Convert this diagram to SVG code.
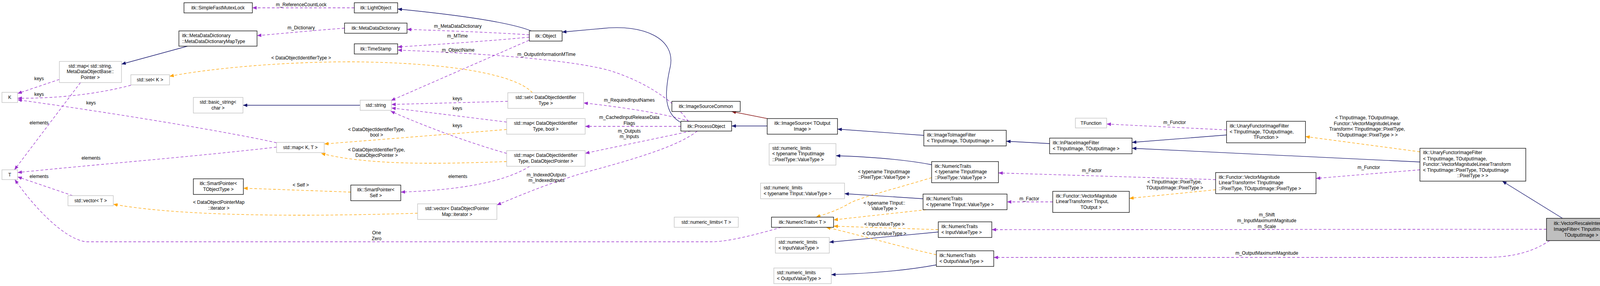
<svg xmlns="http://www.w3.org/2000/svg" width="4144" height="731" viewBox="0 0 4144 731">
<style>
text{font-family:"Liberation Sans",Arial,sans-serif;font-size:12px;fill:#000}
.c{text-anchor:middle}
.b{fill:#fff;stroke:#000;stroke-width:1.3}
.g{fill:#fff;stroke:#bfbfbf;stroke-width:1.3}
.s{fill:#bfbfbf;stroke:#000;stroke-width:1.3}
#edges path{fill:none;stroke-width:1.3}
.p{stroke:#9a32cd;stroke-dasharray:7,5;marker-end:url(#mp)}
.o{stroke:#ffa500;stroke-dasharray:7,5;marker-end:url(#mo)}
.n{stroke:#191970;marker-end:url(#mn)}
.r{stroke:#8b1a1a;marker-end:url(#mr)}
</style>
<defs>
<marker id="mp" markerUnits="userSpaceOnUse" markerWidth="12" markerHeight="9" refX="11" refY="4.5" orient="auto"><path d="M0,0 L11,4.5 L0,9 z" fill="#9a32cd"/></marker>
<marker id="mo" markerUnits="userSpaceOnUse" markerWidth="12" markerHeight="9" refX="11" refY="4.5" orient="auto"><path d="M0,0 L11,4.5 L0,9 z" fill="#ffa500"/></marker>
<marker id="mn" markerUnits="userSpaceOnUse" markerWidth="12" markerHeight="9" refX="11" refY="4.5" orient="auto"><path d="M0,0 L11,4.5 L0,9 z" fill="#191970"/></marker>
<marker id="mr" markerUnits="userSpaceOnUse" markerWidth="12" markerHeight="9" refX="11" refY="4.5" orient="auto"><path d="M0,0 L11,4.5 L0,9 z" fill="#8b1a1a"/></marker>
</defs>
<rect width="4144" height="731" fill="#fff"/>
<g id="edges">
<path class="p" d="M907,20 L646,20"/>
<path class="n" d="M1360,79 C1300,55 1150,36 1018,23"/>
<path class="p" d="M882,72 C800,78 720,86 658,91"/>
<path class="n" d="M480,118 L311,164"/>
<path class="p" d="M1355,89 C1250,82 1120,78 1042,75"/>
<path class="p" d="M1355,95 C1250,105 1100,115 1018,120"/>
<path class="p" d="M1762,310 C1720,250 1640,205 1560,180 C1450,150 1200,135 1018,128"/>
<path class="p" d="M1354,103 L1001,257"/>
<path class="o" d="M1363,237 C1320,190 1150,160 900,158 C700,158 520,178 434,195"/>
<path class="n" d="M922,269 L622,269"/>
<path class="p" d="M1300,259 L1002,267"/>
<path class="p" d="M1297,312 C1200,300 1080,285 1002,276"/>
<path class="p" d="M1297,392 C1200,365 1080,320 1000,284"/>
<path class="o" d="M1297,331 L830,368"/>
<path class="o" d="M1297,413 C1150,418 950,425 822,392"/>
<path class="p" d="M708,365 C600,340 300,290 45,255"/>
<path class="p" d="M708,376 C500,400 250,420 45,441"/>
<path class="p" d="M152,203 L45,239"/>
<path class="p" d="M335,218 C250,240 150,252 45,251"/>
<path class="p" d="M206,211 L37,434"/>
<path class="p" d="M186,500 L45,452"/>
<path class="p" d="M2000,581 C1900,610 1850,618 1820,618 L220,618 C160,610 80,520 38,459"/>
<path class="o" d="M898,491 L623,481"/>
<path class="o" d="M1069,545 C900,550 500,560 290,522"/>
<path class="p" d="M1356,425 C1300,460 1200,485 1026,491"/>
<path class="p" d="M1765,310 C1700,290 1600,275 1494,263"/>
<path class="p" d="M1743,323 L1498,323"/>
<path class="p" d="M1768,335 C1700,350 1600,370 1498,392"/>
<path class="p" d="M1785,335 C1740,370 1650,400 1500,440 C1400,470 1330,500 1272,524"/>
<path class="n" d="M1743,313 C1700,290 1700,240 1716,170 C1730,100 1650,60 1539,73 L1439,82"/>
<path class="n" d="M1964,322 L1873,322"/>
<path class="r" d="M1964,303 L1873,285"/>
<path class="n" d="M2365,346 L2144,330"/>
<path class="n" d="M2687,367 L2576,361"/>
<path class="n" d="M3140,345 L2898,364"/>
<path class="p" d="M3140,332 L2833,317"/>
<path class="o" d="M3635,388 L3342,349"/>
<path class="n" d="M3635,414 L2898,379"/>
<path class="p" d="M3635,434 L3369,456"/>
<path class="n" d="M4000,558 L3846,463"/>
<path class="o" d="M3112,485 L2891,507"/>
<path class="p" d="M2695,516 L2578,516"/>
<path class="p" d="M3112,459 L2556,442"/>
<path class="n" d="M2385,421 C2300,405 2200,400 2140,398"/>
<path class="o" d="M2385,454 C2300,480 2200,505 2174,520 C2140,540 2110,548 2089,555"/>
<path class="n" d="M2363,508 L2162,495"/>
<path class="o" d="M2371,536 L2134,562"/>
<path class="o" d="M2402,587 L2134,578"/>
<path class="n" d="M2402,593 L2123,619"/>
<path class="o" d="M2397,651 C2300,630 2200,600 2115,581"/>
<path class="n" d="M2397,677 C2300,695 2200,700 2128,702"/>
<path class="p" d="M3959,586 L2539,587"/>
<path class="p" d="M3967,615 C3930,640 3880,658 3800,658 L2544,658"/>
<g class="c">
<text x="771" y="16">m_ReferenceCountLock</text>
<text x="771" y="75">m_Dictionary</text>
<text x="1172" y="71">m_MetaDataDictionary</text>
<text x="1171" y="96">m_MTime</text>
<text x="1173" y="132">m_ObjectName</text>
<text x="1399" y="143">m_OutputInformationMTime</text>
<text x="771" y="152">&lt; DataObjectIdentifierType &gt;</text>
<text x="1171" y="256">keys</text>
<text x="1171" y="281">keys</text>
<text x="1171" y="325">keys</text>
<text x="964" y="335">&lt; DataObjectIdentifierType,</text>
<text x="964" y="349">bool &gt;</text>
<text x="964" y="387">&lt; DataObjectIdentifierType,</text>
<text x="964" y="401">DataObjectPointer &gt;</text>
<text x="100" y="205">keys</text>
<text x="100" y="245">keys</text>
<text x="233" y="267">keys</text>
<text x="100" y="318">elements</text>
<text x="233" y="408">elements</text>
<text x="100" y="455">elements</text>
<text x="964" y="599">One</text>
<text x="964" y="614">Zero</text>
<text x="770" y="477">&lt; Self &gt;</text>
<text x="560" y="521">&lt; DataObjectPointerMap</text>
<text x="560" y="536">::iterator &gt;</text>
<text x="1172" y="455">elements</text>
<text x="1611" y="260">m_RequiredInputNames</text>
<text x="1611" y="304">m_CachedInputReleaseData</text>
<text x="1611" y="319">Flags</text>
<text x="1611" y="339">m_Outputs</text>
<text x="1611" y="353">m_Inputs</text>
<text x="1399" y="451">m_IndexedOutputs</text>
<text x="1399" y="465">m_IndexedInputs</text>
<text x="3007" y="317">m_Functor</text>
<text x="3500" y="305">&lt; TInputImage, TOutputImage,</text>
<text x="3500" y="320">Functor::VectorMagnitudeLinear</text>
<text x="3500" y="334">Transform&lt; TInputImage::PixelType,</text>
<text x="3500" y="349">TOutputImage::PixelType &gt; &gt;</text>
<text x="3504" y="432">m_Functor</text>
<text x="3007" y="469">&lt; TInputImage::PixelType,</text>
<text x="3007" y="484">TOutputImage::PixelType &gt;</text>
<text x="2635" y="512">m_Factor</text>
<text x="2795" y="440">m_Factor</text>
<text x="2263" y="443">&lt; typename TInputImage</text>
<text x="2263" y="457">::PixelType::ValueType &gt;</text>
<text x="2264" y="523">&lt; typename TInput::</text>
<text x="2264" y="537">ValueType &gt;</text>
<text x="2264" y="577">&lt; InputValueType &gt;</text>
<text x="2264" y="601">&lt; OutputValueType &gt;</text>
<text x="3243" y="553">m_Shift</text>
<text x="3243" y="568">m_InputMaximumMagnitude</text>
<text x="3243" y="583">m_Scale</text>
<text x="3243" y="651">m_OutputMaximumMagnitude</text>
</g>
</g>
<g id="n1"><rect class="b" x="471" y="7" width="175" height="26"/><text class="c" x="558" y="24">itk::SimpleFastMutexLock</text></g>
<g id="n2"><rect class="b" x="458" y="79" width="200" height="39"/><text x="466" y="95">itk::MetaDataDictionary</text><text x="466" y="110">::MetaDataDictionaryMapType</text></g>
<g id="n3"><rect class="g" x="152" y="157" width="159" height="54"/><text class="c" x="231" y="173">std::map&lt; std::string,</text><text class="c" x="231" y="187">MetaDataObjectBase::</text><text class="c" x="231" y="202">Pointer &gt;</text></g>
<g id="n4"><rect class="g" x="335" y="191" width="99" height="26"/><text class="c" x="384" y="208">std::set&lt; K &gt;</text></g>
<g id="n5"><rect class="g" x="5" y="236" width="40" height="26"/><text class="c" x="25" y="253">K</text></g>
<g id="n6"><rect class="g" x="495" y="249" width="127" height="40"/><text class="c" x="558" y="265">std::basic_string&lt;</text><text class="c" x="558" y="280">char &gt;</text></g>
<g id="n7"><rect class="g" x="5" y="434" width="40" height="25"/><text class="c" x="25" y="451">T</text></g>
<g id="n8"><rect class="b" x="495" y="457" width="128" height="40"/><text class="c" x="559" y="473">itk::SmartPointer&lt;</text><text class="c" x="559" y="488">TObjectType &gt;</text></g>
<g id="n9"><rect class="g" x="174" y="500" width="116" height="26"/><text class="c" x="232" y="517">std::vector&lt; T &gt;</text></g>
<g id="n10"><rect class="b" x="907" y="7" width="111" height="26"/><text class="c" x="962" y="24">itk::LightObject</text></g>
<g id="n11"><rect class="b" x="882" y="59" width="160" height="26"/><text class="c" x="962" y="76">itk::MetaDataDictionary</text></g>
<g id="n12"><rect class="b" x="907" y="112" width="111" height="26"/><text class="c" x="962" y="129">itk::TimeStamp</text></g>
<g id="n13"><rect class="g" x="922" y="256" width="80" height="26"/><text class="c" x="962" y="273">std::string</text></g>
<g id="n14"><rect class="b" x="1355" y="79" width="84" height="26"/><text class="c" x="1397" y="96">itk::Object</text></g>
<g id="n15"><rect class="g" x="1300" y="237" width="194" height="40"/><text class="c" x="1397" y="253">std::set&lt; DataObjectIdentifier</text><text class="c" x="1397" y="268">Type &gt;</text></g>
<g id="n16"><rect class="g" x="1297" y="303" width="201" height="40"/><text class="c" x="1397" y="319">std::map&lt; DataObjectIdentifier</text><text class="c" x="1397" y="334">Type, bool &gt;</text></g>
<g id="n17"><rect class="g" x="708" y="364" width="122" height="26"/><text class="c" x="769" y="381">std::map&lt; K, T &gt;</text></g>
<g id="n18"><rect class="g" x="1297" y="385" width="201" height="40"/><text class="c" x="1397" y="401">std::map&lt; DataObjectIdentifier</text><text class="c" x="1397" y="416">Type, DataObjectPointer &gt;</text></g>
<g id="n19"><rect class="b" x="898" y="473" width="128" height="40"/><text class="c" x="962" y="489">itk::SmartPointer&lt;</text><text class="c" x="962" y="504">Self &gt;</text></g>
<g id="n20"><rect class="g" x="1069" y="521" width="203" height="40"/><text class="c" x="1170" y="537">std::vector&lt; DataObjectPointer</text><text class="c" x="1170" y="552">Map::iterator &gt;</text></g>
<g id="n21"><rect class="b" x="1720" y="259" width="175" height="26"/><text class="c" x="1807" y="276">itk::ImageSourceCommon</text></g>
<g id="n22"><rect class="b" x="1743" y="310" width="130" height="25"/><text class="c" x="1808" y="327">itk::ProcessObject</text></g>
<g id="n23"><rect class="b" x="1964" y="303" width="180" height="40"/><text class="c" x="2054" y="319">itk::ImageSource&lt; TOutput</text><text class="c" x="2054" y="334">Image &gt;</text></g>
<g id="n24"><rect class="g" x="1726" y="555" width="164" height="26"/><text class="c" x="1808" y="572">std::numeric_limits&lt; T &gt;</text></g>
<g id="n25"><rect class="b" x="1975" y="555" width="159" height="26"/><text class="c" x="2054" y="572">itk::NumericTraits&lt; T &gt;</text></g>
<g id="n26"><rect class="g" x="1969" y="367" width="171" height="55"/><text x="1977" y="383">std::numeric_limits</text><text x="1977" y="397">&lt; typename TInputImage</text><text x="1977" y="412">::PixelType::ValueType &gt;</text></g>
<g id="n27"><rect class="g" x="1947" y="468" width="215" height="40"/><text x="1955" y="484">std::numeric_limits</text><text x="1955" y="499">&lt; typename TInput::ValueType &gt;</text></g>
<g id="n28"><rect class="g" x="1985" y="607" width="138" height="40"/><text x="1993" y="623">std::numeric_limits</text><text x="1993" y="638">&lt; InputValueType &gt;</text></g>
<g id="n29"><rect class="g" x="1981" y="685" width="147" height="40"/><text x="1989" y="701">std::numeric_limits</text><text x="1989" y="716">&lt; OutputValueType &gt;</text></g>
<g id="n30"><rect class="b" x="2365" y="333" width="211" height="40"/><text x="2373" y="349">itk::ImageToImageFilter</text><text x="2373" y="364">&lt; TInputImage, TOutputImage &gt;</text></g>
<g id="n31"><rect class="b" x="2687" y="353" width="211" height="40"/><text x="2695" y="369">itk::InPlaceImageFilter</text><text x="2695" y="384">&lt; TInputImage, TOutputImage &gt;</text></g>
<g id="n32"><rect class="b" x="2385" y="413" width="171" height="54"/><text x="2393" y="429">itk::NumericTraits</text><text x="2393" y="443">&lt; typename TInputImage</text><text x="2393" y="458">::PixelType::ValueType &gt;</text></g>
<g id="n33"><rect class="b" x="2363" y="496" width="215" height="40"/><text x="2371" y="512">itk::NumericTraits</text><text x="2371" y="527">&lt; typename TInput::ValueType &gt;</text></g>
<g id="n34"><rect class="b" x="2402" y="567" width="137" height="40"/><text x="2410" y="583">itk::NumericTraits</text><text x="2410" y="598">&lt; InputValueType &gt;</text></g>
<g id="n35"><rect class="b" x="2397" y="641" width="147" height="40"/><text x="2405" y="657">itk::NumericTraits</text><text x="2405" y="672">&lt; OutputValueType &gt;</text></g>
<g id="n36"><rect class="g" x="2753" y="302" width="80" height="25"/><text class="c" x="2793" y="319">TFunction</text></g>
<g id="n37"><rect class="b" x="3140" y="310" width="202" height="55"/><text x="3148" y="326">itk::UnaryFunctorImageFilter</text><text x="3148" y="341">&lt; TInputImage, TOutputImage,</text><text class="c" x="3241" y="355">TFunction &gt;</text></g>
<g id="n38"><rect class="b" x="3112" y="441" width="257" height="54"/><text x="3120" y="457">itk::Functor::VectorMagnitude</text><text x="3120" y="471">LinearTransform&lt; TInputImage</text><text x="3120" y="486">::PixelType, TOutputImage::PixelType &gt;</text></g>
<g id="n39"><rect class="b" x="2695" y="489" width="196" height="54"/><text x="2703" y="505">itk::Functor::VectorMagnitude</text><text x="2703" y="519">LinearTransform&lt; TInput,</text><text class="c" x="2793" y="534">TOutput &gt;</text></g>
<g id="n40"><rect class="b" x="3635" y="379" width="271" height="84"/><text x="3643" y="394">itk::UnaryFunctorImageFilter</text><text x="3643" y="410">&lt; TInputImage, TOutputImage,</text><text x="3643" y="424">Functor::VectorMagnitudeLinearTransform</text><text x="3643" y="439">&lt; TInputImage::PixelType, TOutputImage</text><text class="c" x="3770" y="453">::PixelType &gt; &gt;</text></g>
<g id="n41"><rect class="s" x="3959" y="558" width="178" height="57"/><text class="c" x="4048" y="575">itk::VectorRescaleIntensity</text><text class="c" x="4048" y="590">ImageFilter&lt; TInputImage,</text><text class="c" x="4048" y="605">TOutputImage &gt;</text></g>
</svg>
